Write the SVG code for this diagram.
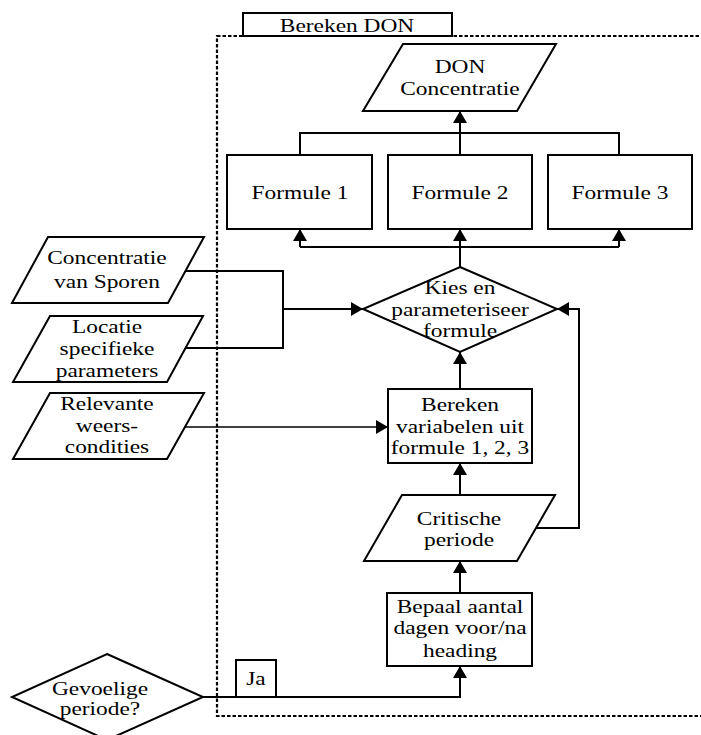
<svg xmlns="http://www.w3.org/2000/svg" width="701" height="735" viewBox="0 0 701 735">
<defs>
<marker id="ah" markerUnits="userSpaceOnUse" markerWidth="12" markerHeight="14" refX="12" refY="7" orient="auto">
<path d="M0,0 L12,7 L0,14 z" fill="#000"/>
</marker>
<style>
.s{fill:#fff;stroke:#000;stroke-width:2}
.c{fill:none;stroke:#000;stroke-width:2}
.a{fill:none;stroke:#000;stroke-width:2;marker-end:url(#ah)}
.t{font-family:"Liberation Serif","Times New Roman",serif;font-size:18px;text-anchor:middle;fill:#000}
</style>
</defs>
<rect width="701" height="735" fill="#fff"/>
<rect id="frame" x="217" y="36" width="500" height="680" fill="none" stroke="#000" stroke-width="2.2" stroke-dasharray="3.5,2"/>
<g id="title">
<rect class="s" x="243" y="13" width="209" height="23"/>
<text class="t" transform="translate(347,32) scale(1.3,1)">Bereken DON</text>
</g>
<g id="connectors">
<path class="a" d="M460,156 V111"/>
<path class="c" d="M300,156 V133 H619 V156"/>
<path class="a" d="M460,267 V229"/>
<path class="c" d="M300,247 H619"/>
<path class="a" d="M300,247 V229"/>
<path class="a" d="M619,247 V229"/>
<path class="c" d="M185,271 H283 V348 H185"/>
<path class="a" d="M283,309 H363"/>
<path class="a" d="M185,427 H388" style="stroke-width:1.5"/>
<path class="a" d="M460,389 V352"/>
<path class="a" d="M460,495 V463"/>
<path class="a" d="M536,528 H579 V309 H557"/>
<path class="a" d="M460,593 V561"/>
<path class="a" d="M203,697 H460 V666"/>
</g>
<g id="don">
<polygon class="s" points="403,44 556,44 517,111 363,111"/>
<text class="t" transform="translate(460,73) scale(1.3,1)">DON</text>
<text class="t" transform="translate(460,95) scale(1.3,1)">Concentratie</text>
</g>
<g id="f1">
<rect class="s" x="227" y="155" width="145" height="74"/>
<text class="t" transform="translate(300,199) scale(1.3,1)">Formule 1</text>
</g>
<g id="f2">
<rect class="s" x="388" y="155" width="144" height="74"/>
<text class="t" transform="translate(460,199) scale(1.3,1)">Formule 2</text>
</g>
<g id="f3">
<rect class="s" x="548" y="155" width="144" height="74"/>
<text class="t" transform="translate(620,199) scale(1.3,1)">Formule 3</text>
</g>
<g id="kies">
<polygon class="s" points="460,267 557,309 460,352 363,309"/>
<text class="t" transform="translate(460,294) scale(1.3,1)">Kies en</text>
<text class="t" transform="translate(460,316) scale(1.3,1)">parameteriseer</text>
<text class="t" transform="translate(460,337) scale(1.3,1)">formule</text>
</g>
<g id="sporen">
<polygon class="s" points="48,237 204,237 168,303 12,303"/>
<text class="t" transform="translate(107,264) scale(1.3,1)">Concentratie</text>
<text class="t" transform="translate(107,288) scale(1.3,1)">van Sporen</text>
</g>
<g id="locatie">
<polygon class="s" points="50,316 203,316 167,382 13,382"/>
<text class="t" transform="translate(107,333) scale(1.3,1)">Locatie</text>
<text class="t" transform="translate(107,355) scale(1.3,1)">specifieke</text>
<text class="t" transform="translate(107,377) scale(1.3,1)">parameters</text>
</g>
<g id="weer">
<polygon class="s" points="50,393 204,393 167,459 13,459"/>
<text class="t" transform="translate(107,410) scale(1.3,1)">Relevante</text>
<text class="t" transform="translate(107,432) scale(1.3,1)">weers-</text>
<text class="t" transform="translate(107,453) scale(1.3,1)">condities</text>
</g>
<g id="bereken">
<rect class="s" x="388" y="389" width="144" height="74"/>
<text class="t" transform="translate(460,411) scale(1.3,1)">Bereken</text>
<text class="t" transform="translate(460,433) scale(1.3,1)">variabelen uit</text>
<text class="t" transform="translate(460,454) scale(1.3,1)">formule 1, 2, 3</text>
</g>
<g id="critisch">
<polygon class="s" points="402,495 555,495 517,561 364,561"/>
<text class="t" transform="translate(459,525) scale(1.3,1)">Critische</text>
<text class="t" transform="translate(459,546) scale(1.3,1)">periode</text>
</g>
<g id="bepaal">
<rect class="s" x="387" y="593" width="145" height="73"/>
<text class="t" transform="translate(460,613) scale(1.3,1)">Bepaal aantal</text>
<text class="t" transform="translate(460,634) scale(1.3,1)">dagen voor/na</text>
<text class="t" transform="translate(460,657) scale(1.3,1)">heading</text>
</g>
<g id="ja">
<rect class="s" x="236" y="660" width="40" height="37"/>
<text class="t" transform="translate(256,685) scale(1.3,1)">Ja</text>
</g>
<g id="gevoelig">
<polygon class="s" points="107,654 203,697 107,740 12,697"/>
<text class="t" transform="translate(100,695) scale(1.3,1)">Gevoelige</text>
<text class="t" transform="translate(100,715) scale(1.3,1)">periode?</text>
</g>
</svg>
